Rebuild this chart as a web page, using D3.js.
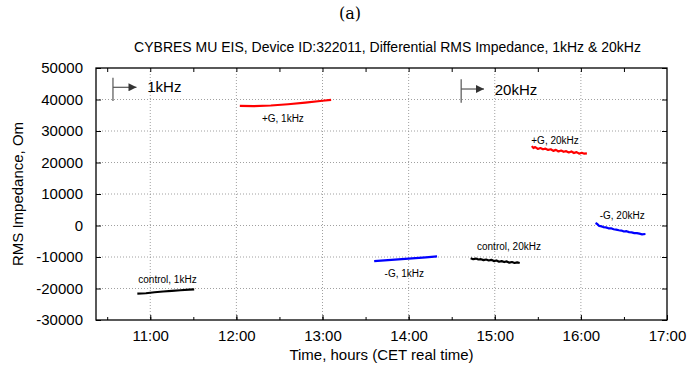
<!DOCTYPE html>
<html>
<head>
<meta charset="utf-8">
<script src="https://cdn.jsdelivr.net/npm/d3@7"></script>
<style>
  body { margin: 0; background: #fff; }
  svg { font-family: "Liberation Sans", Arial, sans-serif; }
  .grid line { stroke: #888; stroke-dasharray: 1,2; stroke-width: 0.8; }
</style>
</head>
<body>
<svg width="700" height="365"></svg>
<script>
// time in decimal hours, impedance in Om
const xTicks = [11, 12, 13, 14, 15, 16, 17];
const yTicks = [-30000, -20000, -10000, 0, 10000, 20000, 30000, 40000, 50000];

const control1k = [[10.85,-21600],[10.95,-21500],[11.05,-21200],[11.15,-20950],[11.25,-20750],[11.35,-20550],[11.45,-20350],[11.51,-20250]];
const plusG1k = [[12.04,38000],[12.2,37900],[12.4,38100],[12.6,38500],[12.8,39000],[13.0,39600],[13.1,39900]];
const minusG1k = [[13.6,-11300],[13.8,-10900],[14.0,-10500],[14.2,-10100],[14.33,-9800]];
const control20k = [[14.72,-10400],[14.75,-10700],[14.78,-10500],[14.81,-10800],[14.84,-10700],[14.87,-11000],[14.9,-10800],[14.93,-11100],[14.96,-10900],[14.99,-11300],[15.02,-11100],[15.05,-11500],[15.08,-11300],[15.11,-11600],[15.14,-11400],[15.17,-11800],[15.2,-11600],[15.23,-11900],[15.26,-11700],[15.29,-11900]];
const plusG20k = [[15.43,25200],[15.45,24600],[15.47,24900],[15.5,24300],[15.53,24600],[15.56,24200],[15.59,24400],[15.62,24000],[15.65,24200],[15.68,23700],[15.71,24000],[15.74,23500],[15.77,23800],[15.8,23400],[15.83,23600],[15.86,23200],[15.89,23500],[15.92,23000],[15.95,23300],[15.98,22800],[16.01,23100],[16.04,22800],[16.07,22900]];
const minusG20k = [[16.17,800],[16.19,500],[16.21,-100],[16.23,-200],[16.26,-500],[16.29,-600],[16.32,-900],[16.35,-900],[16.38,-1200],[16.41,-1300],[16.44,-1500],[16.47,-1600],[16.5,-1900],[16.53,-1800],[16.56,-2100],[16.59,-2200],[16.62,-2400],[16.65,-2400],[16.68,-2600],[16.71,-2800],[16.75,-2700]];

const series = [
  { name: "control, 1kHz", color: "#000", values: control1k, label: [11.2, -18250] },
  { name: "+G, 1kHz", color: "#f00", values: plusG1k, label: [12.54, 32860] },
  { name: "-G, 1kHz", color: "#00f", values: minusG1k, label: [13.95, -16350] },
  { name: "control, 20kHz", color: "#000", values: control20k, label: [15.165, -7780] },
  { name: "+G, 20kHz", color: "#f00", values: plusG20k, label: [15.7, 26030] },
  { name: "-G, 20kHz", color: "#00f", values: minusG20k, label: [16.48, 2060] }
];

// frequency markers: bar position, bar top/bottom, arrow end, arrow level, text
const markers = [
  { text: "1kHz", x0: 10.567, x1: 10.84, yTop: 46900, yBot: 39500, yArrow: 43870, tx: 10.965, ty: 42290 },
  { text: "20kHz", x0: 14.61, x1: 14.875, yTop: 46400, yBot: 38980, yArrow: 43330, tx: 15.0, ty: 41430 }
];

const svg = d3.select("svg"),
      margin = { top: 68, right: 33, bottom: 45, left: 96 },
      width = +svg.attr("width") - margin.left - margin.right,
      height = +svg.attr("height") - margin.top - margin.bottom;

const g = svg.append("g").attr("transform", `translate(${margin.left},${margin.top})`);

const x = d3.scaleLinear().domain([10.37, 17]).range([0, width]);
const y = d3.scaleLinear().domain([-30000, 50000]).range([height, 0]);

// Grid
g.append("g").attr("class", "grid")
  .selectAll("line").data(xTicks.filter(d => d < 17)).enter().append("line")
  .attr("x1", d => x(d)).attr("x2", d => x(d)).attr("y1", 0).attr("y2", height);
g.append("g").attr("class", "grid")
  .selectAll("line").data(yTicks.filter(d => d > -30000 && d < 50000)).enter().append("line")
  .attr("x1", 0).attr("x2", width).attr("y1", d => y(d)).attr("y2", d => y(d));

// Axes (ticks point inward like gnuplot)
const minor = d3.range(10.5, 17, 0.5);
const axStyle = sel => {
  sel.select(".domain").remove();
  sel.selectAll("line").attr("stroke", "#000");
  sel.selectAll("text").attr("font-size", "15px").attr("fill", "#000");
};
g.append("g").attr("transform", `translate(0,${height})`)
  .call(d3.axisBottom(x).tickValues(xTicks).tickSize(-5).tickPadding(10)
    .tickFormat(d => `${d}:00`))
  .call(axStyle);
g.append("g").attr("transform", `translate(0,${height})`)
  .call(d3.axisBottom(x).tickValues(minor).tickSize(-3).tickFormat(""))
  .call(axStyle);
g.append("g")
  .call(d3.axisTop(x).tickValues(minor).tickSize(-4).tickFormat(""))
  .call(axStyle);
g.append("g")
  .call(d3.axisLeft(y).tickValues(yTicks).tickSize(-5).tickPadding(13)
    .tickFormat(d => String(d)))
  .call(axStyle);
g.append("g").attr("transform", `translate(${width},0)`)
  .call(d3.axisRight(y).tickValues(yTicks).tickSize(-5).tickFormat(""))
  .call(axStyle);

g.append("rect").attr("width", width).attr("height", height)
  .attr("fill", "none").attr("stroke", "#000").attr("stroke-width", 1.3);

// Series
const line = d3.line().x(d => x(d[0])).y(d => y(d[1]));
g.selectAll(".series").data(series).enter().append("path")
  .attr("class", "series")
  .attr("d", d => line(d.values))
  .attr("fill", "none")
  .attr("stroke", d => d.color)
  .attr("stroke-width", 2.2)
  .attr("stroke-linejoin", "round");

g.selectAll(".slabel").data(series).enter().append("text")
  .attr("class", "slabel")
  .attr("x", d => x(d.label[0]))
  .attr("y", d => y(d.label[1]))
  .attr("text-anchor", "middle")
  .attr("font-size", "10px")
  .attr("fill", "#000")
  .text(d => d.name);

// Frequency markers
svg.append("defs").append("marker")
  .attr("id", "head").attr("viewBox", "0 0 10 10")
  .attr("refX", 10).attr("refY", 5)
  .attr("markerWidth", 10).attr("markerHeight", 8)
  .attr("markerUnits", "userSpaceOnUse")
  .attr("orient", "auto")
  .append("path").attr("d", "M0,0 L10,5 L0,10 z").attr("fill", "#333");

const mk = g.selectAll(".marker").data(markers).enter().append("g");
mk.append("line")
  .attr("x1", d => x(d.x0)).attr("x2", d => x(d.x0))
  .attr("y1", d => y(d.yTop)).attr("y2", d => y(d.yBot))
  .attr("stroke", "#555").attr("stroke-width", 1.2);
mk.append("line")
  .attr("x1", d => x(d.x0)).attr("x2", d => x(d.x1))
  .attr("y1", d => y(d.yArrow)).attr("y2", d => y(d.yArrow))
  .attr("stroke", "#555").attr("stroke-width", 1.2)
  .attr("marker-end", "url(#head)");
mk.append("text")
  .attr("x", d => x(d.tx)).attr("y", d => y(d.ty))
  .attr("font-size", "15px").attr("fill", "#000")
  .text(d => d.text);

// Titles
svg.append("text")
  .attr("x", 350).attr("y", 19)
  .attr("text-anchor", "middle")
  .style("font-family", "'DejaVu Serif', 'Liberation Serif', serif")
  .style("font-size", "16px")
  .text("(a)");

svg.append("text")
  .attr("x", margin.left + width / 2 + 6).attr("y", 52)
  .attr("text-anchor", "middle")
  .style("font-size", "14px")
  .text("CYBRES MU EIS, Device ID:322011, Differential RMS Impedance, 1kHz & 20kHz");

svg.append("text")
  .attr("x", margin.left + width / 2).attr("y", 360)
  .attr("text-anchor", "middle")
  .style("font-size", "15px")
  .text("Time, hours (CET real time)");

svg.append("text")
  .attr("transform", `translate(23,${margin.top + height / 2}) rotate(-90)`)
  .attr("text-anchor", "middle")
  .style("font-size", "15px")
  .text("RMS Impedance, Om");
</script>
</body>
</html>
